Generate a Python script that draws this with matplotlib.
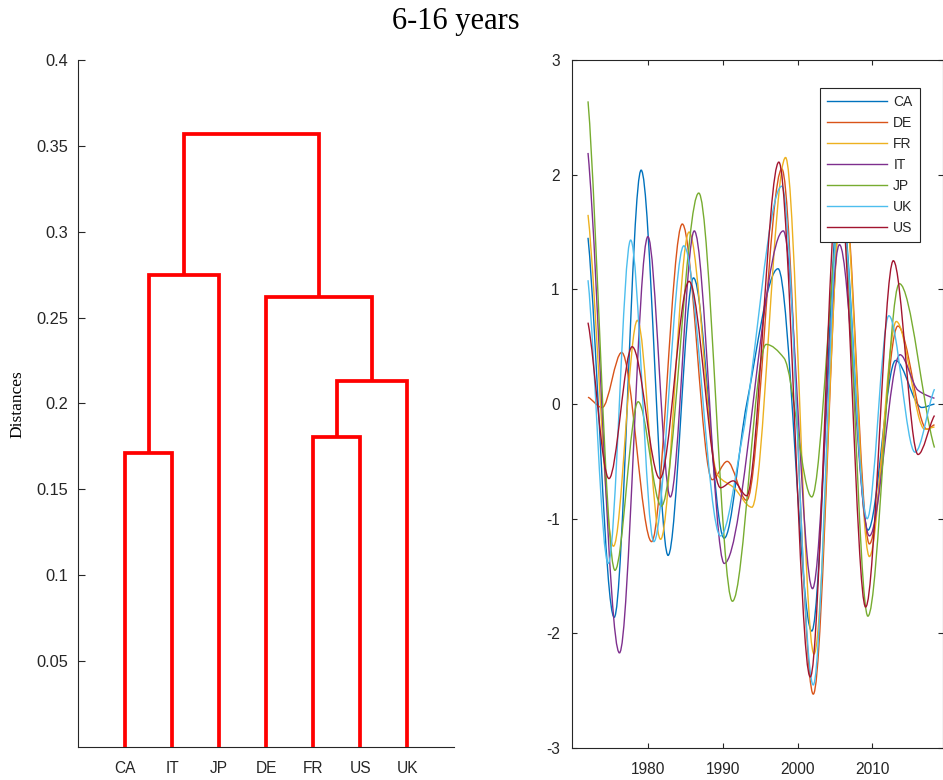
import numpy as np
import matplotlib
matplotlib.use("Agg")
import matplotlib.pyplot as plt
from matplotlib.path import Path
from matplotlib.patches import PathPatch
from matplotlib.lines import Line2D

plt.rcParams['axes.unicode_minus'] = False
plt.rcParams['font.family'] = ['Liberation Sans', 'DejaVu Sans']

# ---------------- dendrogram data ----------------
leaf_labels = ['CA', 'IT', 'JP', 'DE', 'FR', 'US', 'UK']
# merges: cluster ids 0..6 are leaves, merge k creates id 7+k
merge_left = [0, 4, 8, 3, 7, 11]
merge_right = [1, 5, 6, 9, 2, 10]
merge_height = [0.1712, 0.1805, 0.2131, 0.2620, 0.2748, 0.3570]
dist_ticks = [0.05, 0.10, 0.15, 0.20, 0.25, 0.30, 0.35, 0.40]

# ---------------- cycle components (turning points) ----------------
series_labels = ['CA', 'DE', 'FR', 'IT', 'JP', 'UK', 'US']
series_colors = ['#0072BD', '#D95319', '#EDB120', '#7E2F8E',
                 '#77AC30', '#4DBEEE', '#A2142F']

yr_ca = [1972.0, 1975.5, 1979.1, 1982.7, 1986.1, 1990.2, 1993.2, 1997.4,
         2001.9, 2005.7, 2009.4, 2013.1, 2016.6, 2018.3]
ca = [1.45, -1.86, 2.04, -1.32, 1.10, -1.17, 0.00, 1.18,
      -1.98, 1.85, -1.10, 0.38, -0.03, 0.00]

yr_de = [1972.0, 1973.9, 1976.5, 1980.5, 1984.6, 1988.6, 1990.6, 1993.2,
         1997.9, 2002.1, 2006.1, 2009.6, 2013.4, 2017.3, 2018.3]
de = [0.06, -0.03, 0.45, -1.20, 1.57, -0.66, -0.50, -0.84,
      2.05, -2.53, 1.95, -1.22, 0.68, -0.22, -0.18]

yr_fr = [1972.0, 1975.4, 1978.6, 1981.7, 1985.5, 1989.3, 1991.5, 1993.9,
         1998.4, 2002.2, 2006.1, 2009.6, 2013.2, 2017.0, 2018.3]
fr = [1.65, -1.24, 0.73, -1.18, 1.50, -0.62, -0.73, -0.90,
      2.15, -2.18, 1.90, -1.33, 0.72, -0.22, -0.20]

yr_it = [1972.0, 1976.2, 1980.0, 1983.0, 1986.2, 1990.2, 1998.1,
         2002.0, 2005.6, 2009.6, 2013.7, 2016.1, 2018.3]
it = [2.19, -2.17, 1.46, -0.81, 1.51, -1.39, 1.51,
      -1.61, 1.39, -1.15, 0.43, 0.12, 0.05]

yr_jp = [1972.0, 1975.6, 1978.7, 1981.8, 1986.8, 1991.3, 1995.8, 1998.2,
         2001.9, 2005.9, 2009.4, 2013.6, 2018.3]
jp = [2.64, -1.45, 0.02, -0.89, 1.84, -1.72, 0.52, 0.40,
      -0.81, 1.70, -1.85, 1.05, -0.38]

yr_uk = [1972.0, 1974.7, 1977.7, 1980.8, 1984.8, 1989.7, 1992.6, 1997.9,
         2002.1, 2005.7, 2009.3, 2012.2, 2015.7, 2018.3]
uk = [1.08, -1.39, 1.43, -1.20, 1.38, -1.15, -0.30, 1.90,
      -2.45, 1.80, -1.00, 0.77, -0.42, 0.13]

yr_us = [1972.0, 1974.8, 1977.9, 1981.6, 1985.5, 1989.7, 1991.4, 1993.2,
         1997.5, 2001.7, 2005.5, 2009.1, 2012.8, 2016.1, 2018.3]
us = [0.71, -0.65, 0.50, -0.65, 1.07, -0.73, -0.67, -0.80,
      2.11, -2.38, 2.00, -1.77, 1.25, -0.44, -0.10]

series_years = [yr_ca, yr_de, yr_fr, yr_it, yr_jp, yr_uk, yr_us]
series_values = [ca, de, fr, it, jp, uk, us]

year_ticks = [1980, 1990, 2000, 2010]
value_ticks = [-3, -2, -1, 0, 1, 2, 3]

AX_COLOR = '#262626'


def smooth_path(x, y):
    """Monotone cubic Hermite curve through the points, as a Bezier path."""
    x = np.asarray(x, float)
    y = np.asarray(y, float)
    h = np.diff(x)
    s = np.diff(y) / h
    n = len(x)
    d = np.zeros(n)
    for i in range(1, n - 1):
        if s[i - 1] * s[i] <= 0:
            d[i] = 0.0
        else:
            w1 = 2 * h[i] + h[i - 1]
            w2 = h[i] + 2 * h[i - 1]
            d[i] = (w1 + w2) / (w1 / s[i - 1] + w2 / s[i])
    d[0] = 0.7 * s[0]
    d[-1] = 0.7 * s[-1]
    verts = [(x[0], y[0])]
    codes = [Path.MOVETO]
    for i in range(n - 1):
        verts += [(x[i] + h[i] / 3, y[i] + d[i] * h[i] / 3),
                  (x[i + 1] - h[i] / 3, y[i + 1] - d[i + 1] * h[i] / 3),
                  (x[i + 1], y[i + 1])]
        codes += [Path.CURVE4] * 3
    return Path(verts, codes)


fig = plt.figure(figsize=(9.43, 7.8), dpi=100)

# ---------------- left: dendrogram ----------------
axd = fig.add_axes([0.0827, 0.0423, 0.399, 0.8808])
pos = {i: (i + 1.0, 0.0) for i in range(len(leaf_labels))}
for k, (a, b, hgt) in enumerate(zip(merge_left, merge_right, merge_height)):
    xa, ha = pos[a]
    xb, hb = pos[b]
    axd.plot([xa, xa, xb, xb], [ha, hgt, hgt, hb], color='#FF0000',
             lw=2.7, solid_joinstyle='miter', solid_capstyle='butt',
             clip_on=False, zorder=3)
    pos[len(leaf_labels) + k] = ((xa + xb) / 2.0, hgt)

axd.set_xlim(0, 8)
axd.set_ylim(0, 0.4)
axd.set_xticks(range(1, len(leaf_labels) + 1))
axd.set_xticklabels(leaf_labels)
axd.set_yticks(dist_ticks)
axd.set_yticklabels(['%g' % t for t in dist_ticks])
for side in ('top', 'right'):
    axd.spines[side].set_visible(False)
for side in ('left', 'bottom'):
    axd.spines[side].set_color(AX_COLOR)
    axd.spines[side].set_linewidth(0.8)
axd.tick_params(axis='y', direction='in', length=5, width=0.8,
                color=AX_COLOR, labelcolor=AX_COLOR, labelsize=11.8, pad=7)
axd.tick_params(axis='x', length=0, labelcolor=AX_COLOR, labelsize=11.2,
                pad=10)

# ---------------- right: cycle components ----------------
axs = fig.add_axes([0.6069, 0.041, 0.3932, 0.882])
for yrs, vals, col in zip(series_years, series_values, series_colors):
    axs.add_patch(PathPatch(smooth_path(yrs, vals), fill=False,
                            edgecolor=col, lw=1.0, zorder=2))

axs.set_xlim(1969.9, 2019.45)
axs.set_ylim(-3, 3)
axs.set_xticks(year_ticks)
axs.set_yticks(value_ticks)
for side in axs.spines:
    axs.spines[side].set_color(AX_COLOR)
    axs.spines[side].set_linewidth(0.8)
axs.tick_params(direction='in', length=3.6, width=0.8, color=AX_COLOR,
                labelcolor=AX_COLOR, labelsize=11.2, top=True, right=True)
axs.tick_params(axis='x', pad=10)
axs.tick_params(axis='y', pad=9)

handles = [Line2D([], [], color=c, lw=1.0) for c in series_colors]
leg = axs.legend(handles, series_labels, loc='upper left',
                 bbox_to_anchor=(0.669, 0.959), borderaxespad=0,
                 fontsize=10, handlelength=4.3, handletextpad=0.45,
                 labelspacing=0.5, borderpad=0.5, fancybox=False,
                 framealpha=1, edgecolor=AX_COLOR)
leg.get_frame().set_linewidth(0.8)
for t in leg.get_texts():
    t.set_color(AX_COLOR)

fig.text(0.483, 0.972, '6-16 years', ha='center', va='center',
         fontsize=22, family=['Liberation Serif', 'DejaVu Serif'])
fig.text(0.019, 0.482, 'Distances', ha='center', va='center', rotation=90,
         fontsize=12.5, family=['Liberation Serif', 'DejaVu Serif'])

fig.savefig('out.png', dpi=100)
